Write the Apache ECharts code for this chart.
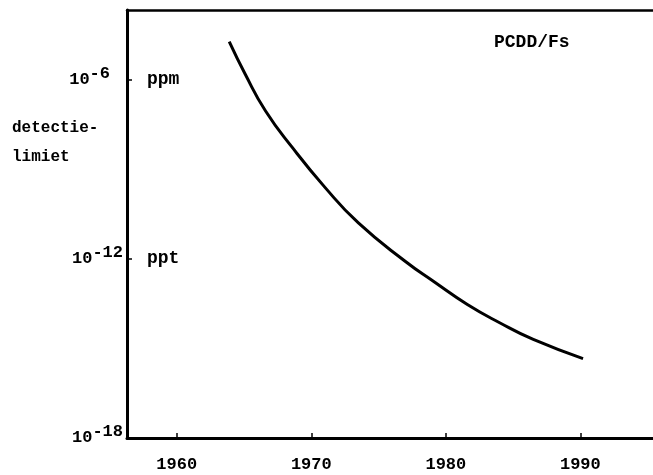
<!DOCTYPE html>
<html>
<head>
<meta charset="utf-8">
<script src="https://cdn.jsdelivr.net/npm/echarts@6/dist/echarts.min.js"></script>
<style>
  html, body { margin: 0; padding: 0; background: #fff; }
  #chart { width: 653px; height: 475px; }
</style>
</head>
<body>
<div id="chart"></div>
<script>
  // detection limit over time, stored as log10 of the limit
  const years = [1963.9, 1965.1, 1966.6, 1968.6, 1971.0, 1973.5, 1977.0, 1979.1, 1981.6, 1984.0, 1986.5, 1990.2];
  const log10Limit = [-4.73, -5.83, -7.05, -8.28, -9.6, -10.8, -12.09, -12.76, -13.53, -14.14, -14.7, -15.34];
  const yearTicks = [1960, 1970, 1980, 1990];
  const expTicks = [-18, -12, -6];
  const unitLabels = { "-6": "ppm", "-12": "ppt" };

  const font = "'Liberation Mono', 'DejaVu Sans Mono', monospace";

  var myChart = echarts.init(document.getElementById("chart"));

  const option = {
    backgroundColor: "#fff",
    animation: false,
    grid: { left: 127, right: 0, top: 10, bottom: 37 },
    xAxis: [
      {
        type: "value",
        min: 1956.3,
        max: 1995.4,
        minInterval: 10,
        maxInterval: 10,
        axisLine: { lineStyle: { color: "#000", width: 3 } },
        axisTick: { inside: true, length: 5, lineStyle: { color: "#000", width: 1.5 } },
        splitLine: { show: false },
        axisLabel: {
          margin: 18,
          color: "#000",
          fontFamily: font,
          fontWeight: "bold",
          fontSize: 17,
          showMinLabel: false,
          showMaxLabel: false,
          formatter: (v) => (yearTicks.includes(v) ? String(v) : ""),
        },
      },
      {
        type: "value",
        position: "top",
        min: 1956.3,
        max: 1995.4,
        axisLine: { show: true, lineStyle: { color: "#000", width: 2.5 } },
        axisTick: { show: false },
        axisLabel: { show: false },
        splitLine: { show: false },
      },
    ],
    yAxis: [
      {
        type: "value",
        min: -18,
        max: -3.67,
        interval: 6,
        axisLine: { show: true, lineStyle: { color: "#000", width: 3 } },
        axisTick: { inside: true, length: 5, lineStyle: { color: "#000", width: 1.5 } },
        splitLine: { show: false },
        axisLabel: {
          margin: 4,
          showMaxLabel: false,
          formatter: (v) => {
            if (!expTicks.includes(v)) return "";
            const pad = v === -6 ? "{p|}" : "";
            return "{b|10}{s|" + v + "}" + pad;
          },
          rich: {
            b: { fontFamily: font, fontWeight: "bold", fontSize: 17, color: "#000" },
            s: { fontFamily: font, fontWeight: "bold", fontSize: 17, color: "#000", padding: [0, 0, 12, 0] },
            p: { width: 13 },
          },
        },
      },
      {
        type: "value",
        position: "left",
        min: -18,
        max: -3.67,
        interval: 6,
        axisLine: { show: false },
        axisTick: { show: false },
        splitLine: { show: false },
        axisLabel: {
          inside: true,
          margin: 20,
          color: "#000",
          fontFamily: font,
          fontWeight: "bold",
          fontSize: 18,
          showMaxLabel: false,
          formatter: (v) => unitLabels[String(v)] || "",
        },
      },
    ],
    graphic: [
      {
        type: "text",
        left: 12,
        top: 120,
        style: { text: "detectie-", font: "bold 16px " + font, fill: "#000" },
      },
      {
        type: "text",
        left: 12,
        top: 149,
        style: { text: "limiet", font: "bold 16px " + font, fill: "#000" },
      },
      {
        type: "text",
        left: 494,
        top: 33,
        style: { text: "PCDD/Fs", font: "bold 18px " + font, fill: "#000" },
      },
    ],
    series: [
      {
        type: "line",
        xAxisIndex: 0,
        yAxisIndex: 0,
        data: years.map((y, i) => [y, log10Limit[i]]),
        smooth: 0.5,
        showSymbol: false,
        lineStyle: { color: "#000", width: 3 },
      },
    ],
  };

  myChart.setOption(option);
</script>
</body>
</html>
